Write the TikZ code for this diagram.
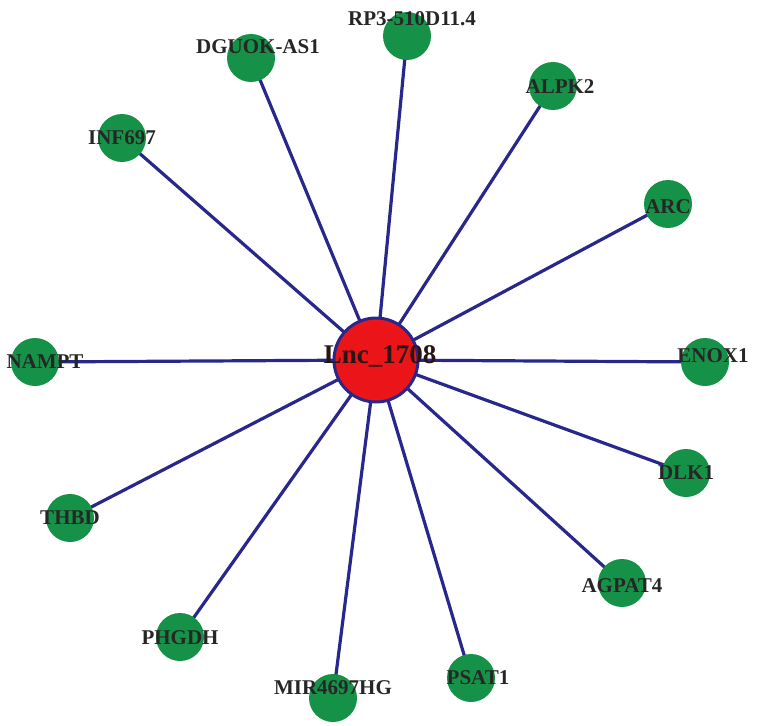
\documentclass[tikz,border=0pt]{standalone}
\usepackage{fontspec}
\setmainfont{Liberation Serif}
\usetikzlibrary{backgrounds}
\begin{document}
\begin{tikzpicture}[x=1pt,y=-1pt,
  gene/.style={circle,fill={rgb,255:red,22;green,146;blue,72},minimum size=48pt,inner sep=0pt},
  hub/.style={circle,fill={rgb,255:red,235;green,20;blue,25},draw={rgb,255:red,40;green,40;blue,140},line width=3pt,minimum size=84pt,inner sep=0pt},
  lbl/.style={font=\bfseries\fontsize{21}{21}\selectfont,text=black!85},
  edge/.style={draw={rgb,255:red,40;green,40;blue,140},line width=3.2pt}]
\useasboundingbox (0,0) rectangle (765,725);
\node[hub] (c) at (376,360) {};
\foreach \n/\x/\y in {a/407/36,b/251/58,d/553/86,e/122/138,f/668/204,g/35/362,h/705/362,i/686/473,j/70/518,k/622/583,l/180/637,m/333/698,o/471/678}{
  \node[gene] (\n) at (\x,\y) {};}
\begin{scope}[on background layer]
\foreach \n in {a,b,d,e,f,g,h,i,j,k,l,m,o}{\path[edge] (c.center) -- (\n.center);}
\end{scope}
\node[lbl] (ta) at (412,19) {RP3-510D11.4};
\node[lbl] (tb) at (258,47) {DGUOK-AS1};
\node[lbl] (td) at (560,87) {ALPK2};
\node[lbl] (te) at (122,138) {INF697};
\node[lbl] (tf) at (668,207) {ARC};
\node[lbl] (tg) at (45,362) {NAMPT};
\node[lbl] (th) at (713,356) {ENOX1};
\node[lbl] (ti) at (686,473) {DLK1};
\node[lbl] (tj) at (70,518) {THBD};
\node[lbl] (tk) at (622,586) {AGPAT4};
\node[lbl] (tl) at (180,638) {PHGDH};
\node[lbl] (tm) at (333,688) {MIR4697HG};
\node[lbl] (to) at (478,678) {PSAT1};
\node[font=\bfseries\fontsize{27}{27}\selectfont,text={rgb,255:red,40;green,20;blue,20}] (tc) at (380,356) {Lnc\_1708};
\end{tikzpicture}
\end{document}
